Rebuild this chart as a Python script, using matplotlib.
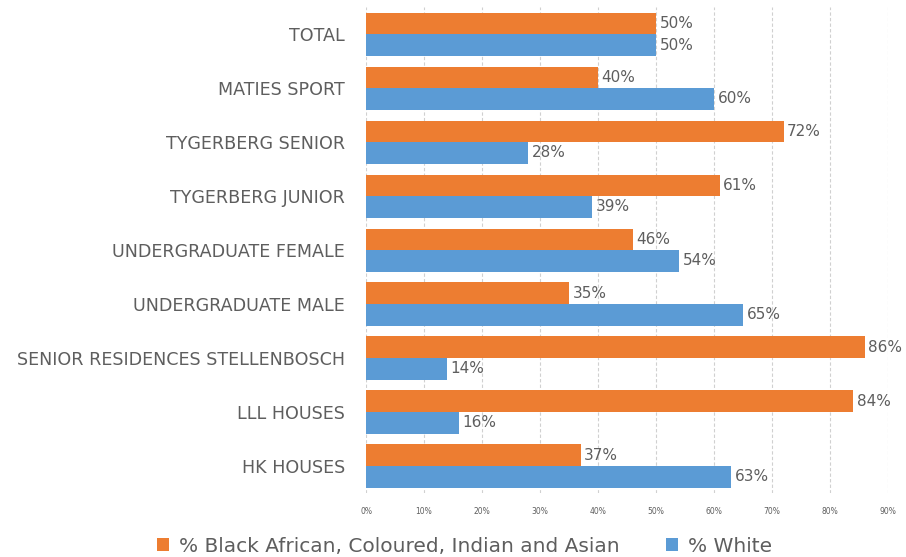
import matplotlib.pyplot as plt
import numpy as np

categories = ["TOTAL", "MATIES SPORT", "TYGERBERG SENIOR", "TYGERBERG JUNIOR",
              "UNDERGRADUATE FEMALE", "UNDERGRADUATE MALE",
              "SENIOR RESIDENCES STELLENBOSCH", "LLL HOUSES", "HK HOUSES"]
black_pct = [50, 40, 72, 61, 46, 35, 86, 84, 37]
white_pct = [50, 60, 28, 39, 54, 65, 14, 16, 63]
x_ticks = [0, 10, 20, 30, 40, 50, 60, 70, 80, 90]

orange = "#ED7D31"
blue = "#5B9BD5"
grey = "#5E5E5E"

plt.rcParams['font.family'] = ['DejaVu Sans']

fig = plt.figure(figsize=(9.06, 5.57), dpi=100)
ax = fig.add_axes([0.404, 0.115, 0.576, 0.872])

y = np.arange(len(categories))
h = 0.4
ax.barh(y - h / 2, black_pct, height=h, color=orange, zorder=3,
        label="% Black African, Coloured, Indian and Asian")
ax.barh(y + h / 2, white_pct, height=h, color=blue, zorder=3, label="% White")

for yi, b, w in zip(y, black_pct, white_pct):
    ax.text(b + 0.6, yi - h / 2, f"{b}%", va="center", ha="left", fontsize=11, color=grey)
    ax.text(w + 0.6, yi + h / 2, f"{w}%", va="center", ha="left", fontsize=11, color=grey)

ax.set_xlim(0, 90)
ax.set_ylim(len(categories) - 0.5, -0.5)
ax.set_yticks(y)
ax.set_yticklabels(categories, fontsize=12.6, color=grey)
ax.set_xticks(x_ticks)
ax.set_xticklabels([f"{t}%" for t in x_ticks], fontsize=5.5, color=grey)
ax.tick_params(axis="y", length=0, pad=15)
ax.tick_params(axis="x", length=0, pad=10)
ax.grid(axis="x", color="#D0D0D0", linestyle=(0, (3, 2)), linewidth=0.8, zorder=0)
for s in ax.spines.values():
    s.set_visible(False)

fig.legend(loc="lower center", bbox_to_anchor=(0.513, -0.03), ncol=2, frameon=False,
           fontsize=14.5, handlelength=0.6, handleheight=0.6, handletextpad=0.5,
           columnspacing=2.3, labelcolor=grey)

fig.savefig("out.png", dpi=100)
